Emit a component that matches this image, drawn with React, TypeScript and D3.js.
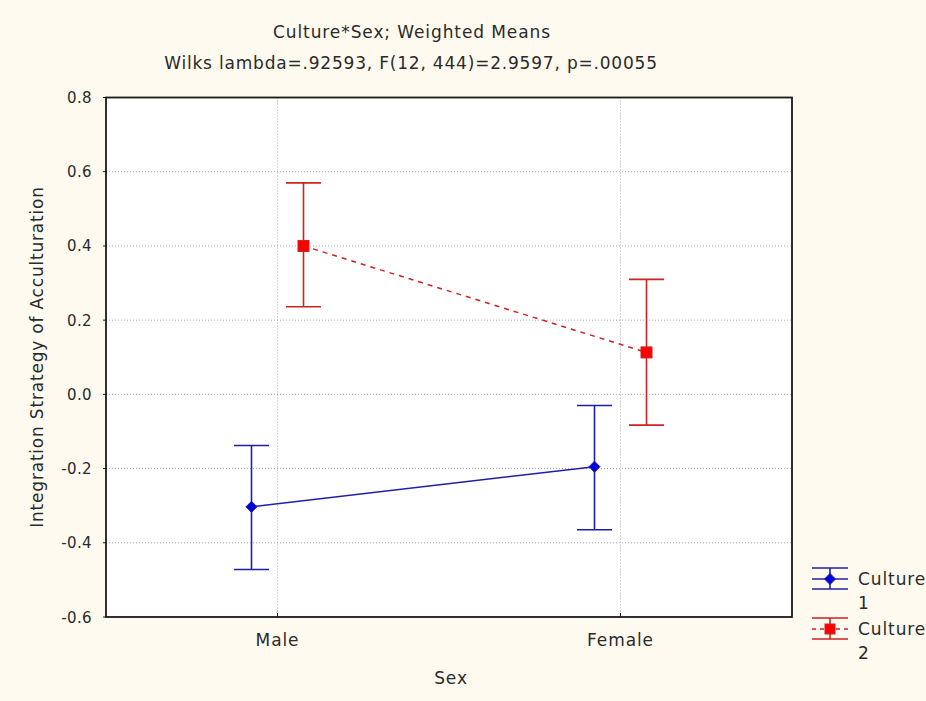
import React from "react";
import * as d3 from "d3";

const categories = ["Male", "Female"];
const yTicks = [0.8, 0.6, 0.4, 0.2, 0.0, -0.2, -0.4, -0.6];
const seriesNames = ["Culture 1", "Culture 2"];
const culture1Mean = [-0.303, -0.195];
const culture1Upper = [-0.138, -0.03];
const culture1Lower = [-0.472, -0.365];
const culture2Mean = [0.4, 0.113];
const culture2Upper = [0.57, 0.31];
const culture2Lower = [0.236, -0.083];

const W = 926;
const H = 701;
const left = 106, right = 792, top = 97.5, bottom = 617;
const BLUE = "#1f1fa6";
const RED = "#cc2222";
const FONT = "'DejaVu Sans', Verdana, sans-serif";
const TXT = "#2a2a2a";

export default function App() {
  const x = d3.scalePoint<string>().domain(categories).range([left, right]).padding(0.5);
  const y = d3.scaleLinear().domain([-0.6, 0.8]).range([bottom, top]);
  const offsets = [-26, 26];
  const series = [
    { name: seriesNames[0], mean: culture1Mean, up: culture1Upper, lo: culture1Lower, color: BLUE, dash: undefined as string | undefined, marker: "diamond" },
    { name: seriesNames[1], mean: culture2Mean, up: culture2Upper, lo: culture2Lower, color: RED, dash: "5,5", marker: "square" },
  ];
  const line = d3.line<[number, number]>().x((d) => d[0]).y((d) => d[1]);
  const capHalf = 17.5;
  const marker = (kind: string, cx: number, cy: number, color: string, s: number) =>
    kind === "square" ? (
      <rect x={cx - s} y={cy - s} width={2 * s} height={2 * s} fill="#ff0000" stroke={color} strokeWidth={1} />
    ) : (
      <path d={`M${cx},${cy - s - 1}L${cx + s + 1},${cy}L${cx},${cy + s + 1}L${cx - s - 1},${cy}Z`} fill="#0000e0" stroke={color} strokeWidth={1} />
    );

  return (
    <svg width={W} height={H} style={{ position: "absolute", left: 0, top: 0, display: "block" }} fontFamily={FONT}>
      <rect x={0} y={0} width={W} height={H} fill="#fefaef" />
      <rect x={left} y={top} width={right - left} height={bottom - top} fill="#ffffff" />
      {/* grid */}
      {yTicks.filter((t) => t < 0.8 && t > -0.6).map((t) => (
        <line key={"gy" + t} x1={left} x2={right} y1={y(t)} y2={y(t)} stroke="#a8a8a8" strokeWidth={1} strokeDasharray="1,2" />
      ))}
      {categories.map((c) => (
        <line key={"gx" + c} x1={x(c)} x2={x(c)} y1={top} y2={bottom} stroke="#a8a8a8" strokeWidth={1} strokeDasharray="1,2" />
      ))}
      {/* frame */}
      <rect x={left} y={top} width={right - left} height={bottom - top} fill="none" stroke="#1a1a1a" strokeWidth={1.8} />
      {/* ticks */}
      {yTicks.map((t) => (
        <g key={"ty" + t}>
          <line x1={left - 3} x2={left} y1={y(t)} y2={y(t)} stroke="#1a1a1a" strokeWidth={1} />
          <text x={92} y={y(t) + 5.5} textAnchor="end" fontSize={15} letterSpacing={0.4} fill={TXT}>{t.toFixed(1)}</text>
        </g>
      ))}
      {categories.map((c) => (
        <g key={"tx" + c}>
          <line x1={x(c)} x2={x(c)} y1={bottom - 4} y2={bottom} stroke="#1a1a1a" strokeWidth={1} />
          <text x={x(c)} y={646} textAnchor="middle" fontSize={17} letterSpacing={0.9} fill={TXT}>{c}</text>
        </g>
      ))}
      {/* titles */}
      <text x={412} y={38} textAnchor="middle" fontSize={17} letterSpacing={0.9} fill={TXT}>Culture*Sex; Weighted Means</text>
      <text x={411} y={69} textAnchor="middle" fontSize={17} letterSpacing={0.8} fill={TXT}>Wilks lambda=.92593, F(12, 444)=2.9597, p=.00055</text>
      <text x={451} y={684} textAnchor="middle" fontSize={17} letterSpacing={0.9} fill={TXT}>Sex</text>
      <text transform={`translate(43,${357}) rotate(-90)`} textAnchor="middle" fontSize={17} letterSpacing={0.8} fill={TXT}>Integration Strategy of Acculturation</text>
      {/* series */}
      {series.map((s, si) => {
        const pts: [number, number][] = categories.map((c, i) => [(x(c) as number) + offsets[si], y(s.mean[i])]);
        return (
          <g key={s.name}>
            <path d={line(pts) || ""} fill="none" stroke={s.color} strokeWidth={1.5} strokeDasharray={s.dash} />
            {categories.map((c, i) => {
              const cx = (x(c) as number) + offsets[si];
              return (
                <g key={c}>
                  <line x1={cx} x2={cx} y1={y(s.up[i])} y2={y(s.lo[i])} stroke={s.color} strokeWidth={1.6} />
                  <line x1={cx - capHalf} x2={cx + capHalf} y1={y(s.up[i])} y2={y(s.up[i])} stroke={s.color} strokeWidth={1.6} />
                  <line x1={cx - capHalf} x2={cx + capHalf} y1={y(s.lo[i])} y2={y(s.lo[i])} stroke={s.color} strokeWidth={1.6} />
                  {marker(s.marker, cx, y(s.mean[i]), s.color, s.marker === "square" ? 5.5 : 4.5)}
                </g>
              );
            })}
          </g>
        );
      })}
      {/* legend */}
      {series.map((s, si) => {
        const cy = si === 0 ? 579 : 629;
        const x0 = 812, x1 = 848, cx = 830;
        return (
          <g key={"lg" + s.name}>
            <line x1={x0} x2={x1} y1={cy - 11} y2={cy - 11} stroke={s.color} strokeWidth={1.6} />
            <line x1={x0} x2={x1} y1={cy + 10} y2={cy + 10} stroke={s.color} strokeWidth={1.6} />
            <line x1={cx} x2={cx} y1={cy - 11} y2={cy + 10} stroke={s.color} strokeWidth={1.6} />
            <line x1={x0} x2={x1} y1={cy} y2={cy} stroke={s.color} strokeWidth={1.6} strokeDasharray={s.dash ? "4,4" : undefined} />
            {marker(s.marker, cx, cy, s.color, s.marker === "square" ? 5 : 4.5)}
            <text x={858} y={cy + 6} fontSize={17} letterSpacing={0.9} fill={TXT}>{s.name.split(" ")[0]}</text>
            <text x={858} y={cy + 30} fontSize={17} letterSpacing={0.9} fill={TXT}>{s.name.split(" ")[1]}</text>
          </g>
        );
      })}
    </svg>
  );
}
